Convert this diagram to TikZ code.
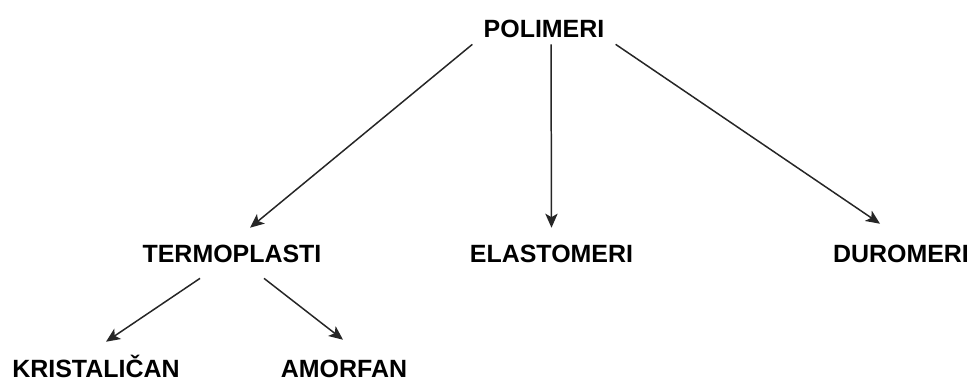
\documentclass[tikz,border=0pt]{standalone}
\usepackage{fontspec}
\setmainfont{Liberation Sans}
\usetikzlibrary{arrows.meta}

\tikzset{
  term/.style={inner sep=0pt, anchor=base, font=\bfseries\fontsize{14.2}{17}\selectfont, text height=10.2pt, text depth=0pt},
  arr/.style={-{Stealth[length=8pt,width=7pt,inset=2pt]}, line width=0.85pt, black!85}
}

\begin{document}
\begin{tikzpicture}[x=0.02cm,y=-0.02cm]
          \useasboundingbox (0,0) rectangle (976,383);
          % top
          \node[term] (pol) at (544,37) {POLIMERI};
          % middle row
          \node[term] (ter) at (232,262) {TERMOPLASTI};
          \node[term] (ela) at (551.5,262) {ELASTOMERI};
          \node[term] (dur) at (901,262) {DUROMERI};
          % bottom row
          \node[term] (kri) at (96,377) {KRISTALIČAN};
          \node[term] (amo) at (344,377) {AMORFAN};
          % arrows from polimeri
          \draw[arr] ([shift={(-11,7)}]pol.south west) -- ([shift={(18,-16)}]ter.north);
          \draw[arr] ([shift={(7,7)}]pol.south) -- ([shift={(0,-16)}]ela.north);
          \draw[arr] ([shift={(11,7)}]pol.south east) -- ([shift={(-21,-20)}]dur.north);
          % arrows from termoplasti
          \draw[arr] ([shift={(-32,16)}]ter.south) -- ([shift={(10,-17)}]kri.north);
          \draw[arr] ([shift={(32,16)}]ter.south) -- ([shift={(-1,-19)}]amo.north);
\end{tikzpicture}
\end{document}
